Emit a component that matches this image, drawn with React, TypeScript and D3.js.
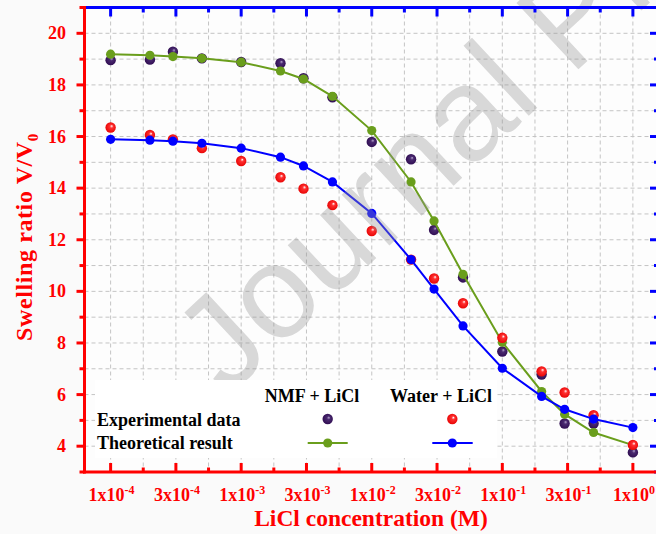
import React from "react";
import * as d3 from "d3";

// ---------- data ----------
const concentrations = [
  1e-4, 2e-4, 3e-4, 5e-4, 1e-3, 2e-3, 3e-3, 5e-3, 1e-2, 2e-2, 3e-2, 5e-2, 1e-1, 2e-1, 3e-1, 5e-1, 1,
];
const nmfExperimental = [
  18.96, 18.98, 19.29, 19.03, 18.89, 18.84, 18.26, 17.52, 15.79, 15.12, 12.38, 10.54, 7.67, 6.78, 4.88, 4.88, 3.76,
];
const nmfTheoretical = [
  19.19, 19.15, 19.1, 19.03, 18.88, 18.54, 18.23, 17.56, 16.23, 14.24, 12.73, 10.66, 8.03, 6.12, 5.24, 4.53, 4.04,
];
const waterExperimental = [
  16.35, 16.06, 15.89, 15.55, 15.05, 14.42, 13.98, 13.34, 12.34, 11.23, 10.5, 9.54, 8.2, 6.9, 6.08, 5.2, 4.05,
];
const waterTheoretical = [
  15.89, 15.86, 15.82, 15.74, 15.55, 15.2, 14.86, 14.24, 13.02, 11.23, 10.09, 8.66, 7.02, 5.93, 5.43, 5.05, 4.72,
];
const yTicks = [4, 6, 8, 10, 12, 14, 16, 18, 20];
const xTickMantissas = ["1x10", "3x10", "1x10", "3x10", "1x10", "3x10", "1x10", "3x10", "1x10"];
const xTickExponents = ["-4", "-4", "-3", "-3", "-2", "-2", "-1", "-1", "0"];
const seriesNames = ["NMF + LiCl", "Water + LiCl"];
const rowNames = ["Experimental data", "Theoretical result"];

// ---------- layout ----------
const W = 656;
const H = 534;
const RED = "#ff0000";
const BLUE = "#0000ff";
const GREEN = "#6a9e1c";
const PURPLE = "#2e0b50";
const SERIF = "'Liberation Serif', 'Times New Roman', serif";

const x = d3.scaleLog().domain([Math.pow(10, -4.2), Math.pow(10, 0.2)]).range([84.5, 659]);
const y = d3.scaleLinear().domain([3, 21]).range([472, 7.5]);

const majorX = d3.range(0, 9).map((i) => Math.pow(10, -4 + i / 2));
const minorX = d3.range(0, 8).map((i) => Math.pow(10, -4 + i / 2 + 0.25));
const gridX = majorX.concat(minorX);
const majorY = yTicks;
const minorY = d3.range(3, 22, 2);
const gridY = d3.range(4, 21);

const lineGen = d3
  .line<number>()
  .x((_, i) => x(concentrations[i]))
  .y((d) => y(d));

function Sphere({ cx, cy, id }: { cx: number; cy: number; id: string }) {
  return <circle cx={cx} cy={cy} r={5.2} fill={`url(#${id})`} />;
}

export default function App() {
  const [x0, x1] = x.range();
  const [y0, y1] = y.range();
  return (
    <svg
      width={W}
      height={H}
      viewBox={`0 0 ${W} ${H}`}
      style={{ position: "absolute", left: 0, top: 0, display: "block" }}
    >
      <defs>
        <radialGradient id="gPurple" cx="0.5" cy="0.5" r="0.55" fx="0.62" fy="0.35">
          <stop offset="0" stopColor="#b7a6cf" />
          <stop offset="0.3" stopColor="#4a2a70" />
          <stop offset="1" stopColor={PURPLE} />
        </radialGradient>
        <radialGradient id="gRed" cx="0.5" cy="0.5" r="0.55" fx="0.62" fy="0.35">
          <stop offset="0" stopColor="#ffffff" />
          <stop offset="0.3" stopColor="#ff3030" />
          <stop offset="1" stopColor="#e60000" />
        </radialGradient>
        <clipPath id="plotClip">
          <rect x={x0} y={y1} width={x1 - x0} height={y0 - y1} />
        </clipPath>
      </defs>
      <rect x={0} y={0} width={W} height={H} fill="#fafafa" />
      <rect x={x0} y={y1} width={x1 - x0} height={y0 - y1} fill="#fdfdfd" />

      {/* grid */}
      <g stroke="#c4c4c4" strokeWidth={1} strokeDasharray="4,3">
        {gridX.map((v, i) => (
          <line key={"gx" + i} x1={x(v)} x2={x(v)} y1={y1} y2={y0} />
        ))}
        {gridY.map((v, i) => (
          <line key={"gy" + i} x1={x0} x2={x1} y1={y(v)} y2={y(v)} />
        ))}
      </g>

      {/* data */}
      <g clipPath="url(#plotClip)">
        {nmfExperimental.map((v, i) => (
          <Sphere key={"ne" + i} cx={x(concentrations[i])} cy={y(v)} id="gPurple" />
        ))}
        <path d={lineGen(nmfTheoretical) || ""} fill="none" stroke={GREEN} strokeWidth={2} />
        {nmfTheoretical.map((v, i) => (
          <circle key={"nt" + i} cx={x(concentrations[i])} cy={y(v)} r={4.6} fill={GREEN} />
        ))}
        {waterExperimental.map((v, i) => (
          <Sphere key={"we" + i} cx={x(concentrations[i])} cy={y(v)} id="gRed" />
        ))}
        <path d={lineGen(waterTheoretical) || ""} fill="none" stroke={BLUE} strokeWidth={2} />
        {waterTheoretical.map((v, i) => (
          <circle key={"wt" + i} cx={x(concentrations[i])} cy={y(v)} r={4.6} fill={BLUE} />
        ))}
      </g>

      {/* watermark */}
      <text
        x={227}
        y={397}
        transform="rotate(-43 227 397)"
        fontFamily="'Liberation Sans', Arial, sans-serif"
        fontSize={132}
        fill="#969696"
        fillOpacity={0.36}
      >
        Journal Pre-proof
      </text>

      {/* legend */}
      <rect x={95} y={380} width={402} height={78} fill="#ffffff" />
      <g fontFamily={SERIF} fontWeight="bold" fontSize={18} fill="#000">
        <text x={312} y={401.5} textAnchor="middle">{seriesNames[0]}</text>
        <text x={441} y={401.5} textAnchor="middle">{seriesNames[1]}</text>
        <text x={97} y={426}>{rowNames[0]}</text>
        <text x={97} y={449}>{rowNames[1]}</text>
      </g>
      <Sphere cx={327.7} cy={419} id="gPurple" />
      <Sphere cx={452.3} cy={419} id="gRed" />
      <line x1={307.7} x2={347.7} y1={443} y2={443} stroke={GREEN} strokeWidth={2.2} />
      <circle cx={327.7} cy={443} r={4.6} fill={GREEN} />
      <line x1={432.3} x2={472.7} y1={443} y2={443} stroke={BLUE} strokeWidth={2.2} />
      <circle cx={452.3} cy={443} r={4.6} fill={BLUE} />

      {/* top axis (blue) */}
      <g stroke={BLUE} strokeWidth={3}>
        {majorX.map((v, i) => (
          <line key={"tM" + i} x1={x(v)} x2={x(v)} y1={y1} y2={y1 + 9} />
        ))}
        {minorX.map((v, i) => (
          <line key={"tm" + i} x1={x(v)} x2={x(v)} y1={y1} y2={y1 + 5} />
        ))}
        <line x1={x0} x2={W + 5} y1={y1} y2={y1} />
      </g>
      {/* right axis (blue) */}
      <g stroke={BLUE} strokeWidth={3}>
        {majorY.map((v, i) => (
          <line key={"rM" + i} x1={x1 - 9} x2={x1} y1={y(v)} y2={y(v)} />
        ))}
        {minorY.map((v, i) => (
          <line key={"rm" + i} x1={x1 - 5} x2={x1} y1={y(v)} y2={y(v)} />
        ))}
        <line x1={x1} x2={x1} y1={y1} y2={y0} />
      </g>
      {/* bottom axis (red) */}
      <g stroke={RED} strokeWidth={3}>
        {majorX.map((v, i) => (
          <line key={"bM" + i} x1={x(v)} x2={x(v)} y1={y0} y2={y0 - 9} />
        ))}
        {minorX.map((v, i) => (
          <line key={"bm" + i} x1={x(v)} x2={x(v)} y1={y0} y2={y0 - 4.5} />
        ))}
        <line x1={x0 - 1.5} x2={W + 5} y1={y0} y2={y0} />
      </g>
      {/* left axis (red) */}
      <g stroke={RED} strokeWidth={3}>
        {majorY.map((v, i) => (
          <line key={"lM" + i} x1={x0 - 8} x2={x0} y1={y(v)} y2={y(v)} />
        ))}
        {minorY.map((v, i) => (
          <line key={"lm" + i} x1={x0 - 5} x2={x0} y1={y(v)} y2={y(v)} />
        ))}
        <line x1={x0} x2={x0} y1={y1 - 1.5} y2={y0 + 1.5} />
      </g>

      {/* tick labels */}
      <g fontFamily={SERIF} fontWeight="bold" fill={RED}>
        {yTicks.map((v) => (
          <text key={"yl" + v} x={66} y={y(v) + 6} fontSize={18} textAnchor="end">
            {v}
          </text>
        ))}
        {majorX.map((v, i) => (
          <text key={"xl" + i} x={x(v) + 1} y={500.5} fontSize={18} textAnchor="middle">
            {xTickMantissas[i]}
            <tspan fontSize={12} dy={-7}>
              {xTickExponents[i]}
            </tspan>
          </text>
        ))}
      </g>

      {/* axis titles */}
      <text
        x={371}
        y={526}
        textAnchor="middle"
        fontFamily={SERIF}
        fontWeight="bold"
        fontSize={23.5}
        fill={RED}
      >
        LiCl concentration (M)
      </text>
      <text
        transform="translate(32 237) rotate(-90)"
        textAnchor="middle"
        fontFamily={SERIF}
        fontWeight="bold"
        fontSize={24}
        letterSpacing={0.6}
        fill={RED}
      >
        Swelling ratio V/V
        <tspan fontSize={15} dy={6}>
          0
        </tspan>
      </text>
    </svg>
  );
}
